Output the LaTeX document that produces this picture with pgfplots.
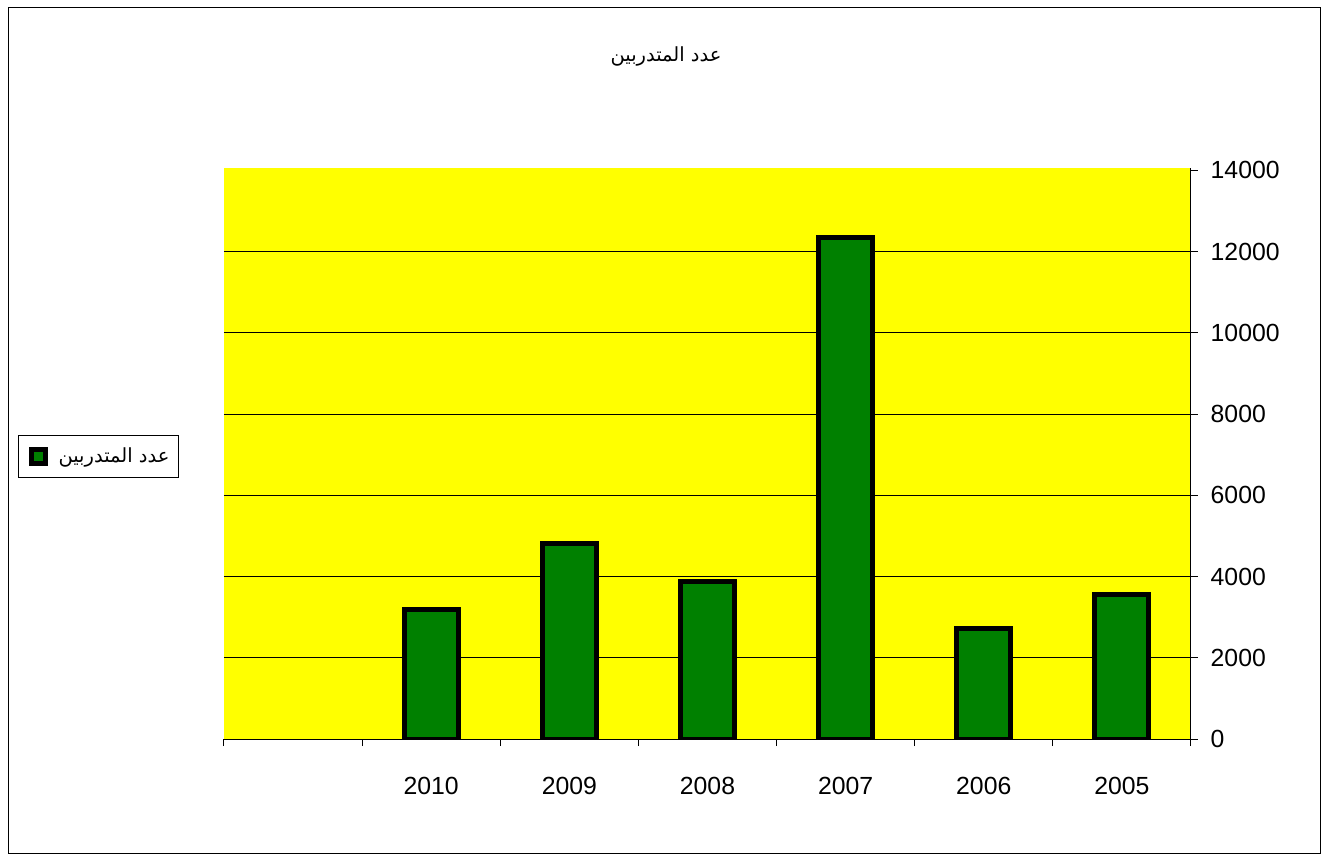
\documentclass[border=0pt]{standalone}
\usepackage{pgfplots}
\pgfplotsset{compat=1.18}
\usepackage{fontspec}
\setmainfont{Liberation Sans}
\newfontfamily\arabicfont[Script=Arabic]{DejaVu Sans}
\TeXXeTstate=1
\definecolor{bargreen}{HTML}{008000}
\definecolor{bgyellow}{HTML}{FFFF00}
\begin{document}
\begin{tikzpicture}
\path[use as bounding box] (0,0) rectangle (996pt,643.5pt);
\draw[line width=0.75pt] (6pt,3.75pt) rectangle (990pt,637.5pt);
\node[font=\arabicfont\fontsize{14.6}{18}\selectfont] at (499.5pt,601.5pt) {\beginR عدد المتدربين\endR};
\begin{axis}[
 at={(168pt,89.25pt)}, anchor=south west,
 scale only axis, width=725.25pt, height=428.25pt,
 xmin=-0.5, xmax=6.5, ymin=0, ymax=14060,
 axis x line=bottom, axis y line=right,
 axis line style={-, line width=0.75pt, black},
 axis background/.style={fill=bgyellow},
 xtick={-0.5,0.5,...,6.5}, xticklabels={},
 extra x ticks={1,2,3,4,5,6},
 extra x tick labels={2010,2009,2008,2007,2006,2005},
 extra x tick style={major tick length=0pt, grid=none, xticklabel style={yshift=-25pt}},
 ytick={0,2000,...,12000},
 extra y ticks={14000},
 extra y tick style={grid=none},
 scaled y ticks=false,
 yticklabel style={xshift=6pt},
 ymajorgrids, grid style={black, line width=0.75pt},
 tick align=outside, major tick length=5.25pt,
 tick style={black, line width=0.75pt},
 tick label style={font=\fontsize{18.6}{22}\selectfont},
 /pgf/number format/assume math mode=true,
 /pgf/number format/1000 sep={},
 legend style={at={(-0.213,0.533)}, anchor=north west, draw=black, line width=0.75pt,
   font=\arabicfont\fontsize{14.6}{18}\selectfont, inner xsep=4.75pt, inner ysep=7.75pt},
 legend image code/.code={\path[draw=none, fill=none] (0pt,0pt) -- (23.25pt,0pt); \draw[fill=bargreen, draw=black, line width=3.75pt] (5pt,-5.25pt) rectangle (15.5pt,5.25pt);},
]
\addplot[ybar, bar width=40.5pt, bar shift=0pt, fill=bargreen, draw=black, line width=3.75pt]
 coordinates {(1,3200)(2,4820)(3,3890)(4,12350)(5,2710)(6,3550)};
\addlegendentry{\beginR عدد المتدربين\endR}
\end{axis}
\end{tikzpicture}
\end{document}
